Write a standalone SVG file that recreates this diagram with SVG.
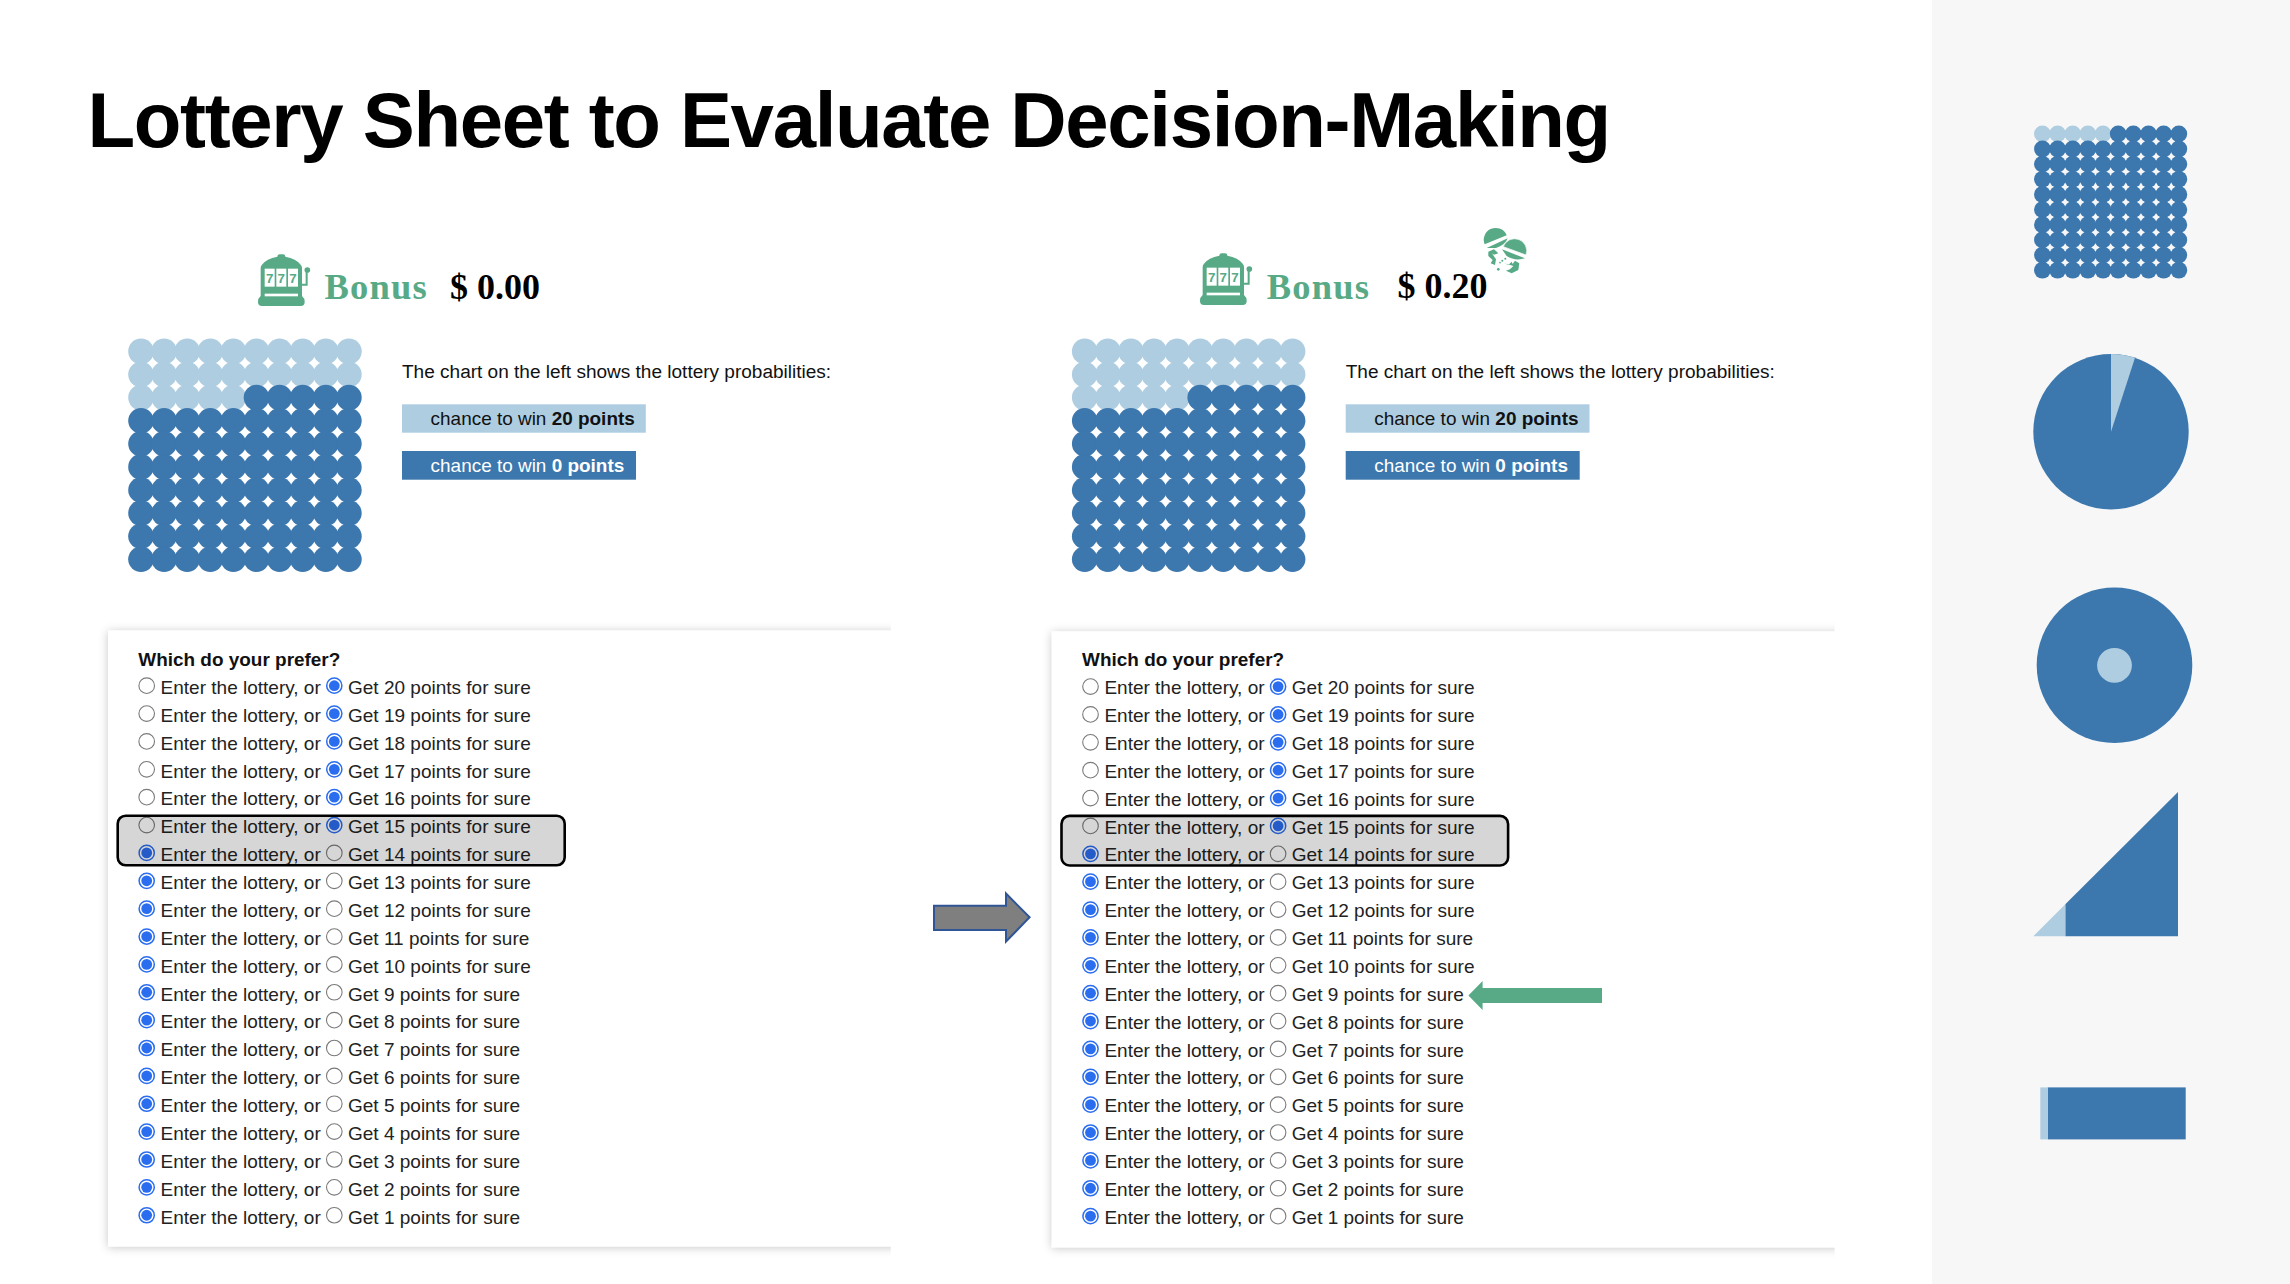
<svg xmlns="http://www.w3.org/2000/svg" width="2290" height="1284" viewBox="0 0 2290 1284">
<style>
text{font-family:"Liberation Sans",Arial,sans-serif}
.title{font-size:78px;font-weight:700;fill:#000;letter-spacing:-1.35px}
.bonus{font-family:"Liberation Serif","Times New Roman",serif;font-size:36.5px;font-weight:700;fill:#57AA85;letter-spacing:1.2px}
.amount{font-family:"Liberation Serif","Times New Roman",serif;font-size:36px;font-weight:700;fill:#000}
.cap{font-size:19.03px;fill:#111}
.bar{font-size:18.95px}
.bar tspan{font-weight:700}
.form text{font-size:19px;fill:#222}
.form text.q{font-size:18.95px;font-weight:700;fill:#111}
.light{fill:#AECDE1}
.dark{fill:#3C77AE}
.green{fill:#57AA85}
.hl{fill:#000;fill-opacity:.16}
.hlb{fill:none;stroke:#000;stroke-width:2.6}
.seven{font-size:40px;font-weight:700;fill:#57AA85;text-anchor:middle}
</style>
<defs>
<filter id="shadow" x="-10%" y="-10%" width="120%" height="120%"><feDropShadow dx="0" dy="1" stdDeviation="5" flood-color="#000" flood-opacity=".22"/></filter>
<clipPath id="cardclip"><rect x="85" y="600" width="805.8" height="670"/></clipPath>
<g id="card" clip-path="url(#cardclip)"><rect x="108" y="630.5" width="900" height="616" fill="#fff" filter="url(#shadow)"/></g>
<g id="a"><circle cx="12.4" cy="12.4" r="12.8"/><circle cx="35.5" cy="12.4" r="12.8"/><circle cx="58.6" cy="12.4" r="12.8"/><circle cx="81.7" cy="12.4" r="12.8"/><circle cx="104.8" cy="12.4" r="12.8"/></g>
<g id="b"><circle cx="127.9" cy="12.4" r="12.8"/><circle cx="151" cy="12.4" r="12.8"/><circle cx="174.1" cy="12.4" r="12.8"/><circle cx="197.2" cy="12.4" r="12.8"/><circle cx="220.3" cy="12.4" r="12.8"/></g>
<g id="r"><use href="#a"/><use href="#b"/></g>
<g id="grid">
<g class="light"><use href="#r"/><use href="#r" y="23.1"/><use href="#a" y="46.2"/></g>
<g class="dark"><use href="#b" y="46.2"/><use href="#r" y="69.3"/><use href="#r" y="92.4"/><use href="#r" y="115.5"/><use href="#r" y="138.6"/><use href="#r" y="161.7"/><use href="#r" y="184.8"/><use href="#r" y="207.9"/></g>
</g>
<g id="on"><circle r="7.6" fill="#fff" stroke="#2B6DEF" stroke-width="1.5"/><circle r="5.4" fill="#2B6DEF"/></g>
<circle id="off" r="7.8" fill="#fff" stroke="#7a7a7a" stroke-width="1.1"/>
<g id="slot" class="green">
<path d="M88 32Q88 25 95 25H105Q112 25 112 32Q145 38 158 56Q162 60 162 66V150Q170 156 170 168Q170 180 158 180H42Q30 180 30 168Q30 156 38 150V66Q38 60 42 56Q55 38 88 32Z"/>
<rect x="50" y="68" width="30" height="54" fill="#fff"/><rect x="85" y="68" width="30" height="54" fill="#fff"/><rect x="120" y="68" width="30" height="54" fill="#fff"/>
<rect x="50" y="143" width="100" height="8" fill="#fff"/>
<circle cx="178" cy="72" r="8.5"/><path d="M176 78V116H160" fill="none" stroke="#57AA85" stroke-width="6"/>
</g>
</defs>

<rect width="2290" height="1284" fill="#fff"/>
<rect x="1932" width="358" height="1284" fill="#F7F7F7"/>

<text id="title" class="title" x="87.5" y="147.3">Lottery Sheet to Evaluate Decision-Making</text>

<g id="bonus-left">
<g transform="translate(248,246) scale(.3333)"><use href="#slot"/><text class="seven" x="65" y="110">7</text><text class="seven" x="100" y="110">7</text><text class="seven" x="135" y="110">7</text></g>
<text class="bonus" x="324.4" y="299.3">Bonus</text>
<text class="amount" x="450" y="298.7">$ 0.00</text>
</g>
<g id="bonus-right">
<g transform="translate(1190,245) scale(.3333)"><use href="#slot"/><text class="seven" x="65" y="110">7</text><text class="seven" x="100" y="110">7</text><text class="seven" x="135" y="110">7</text></g>
<text class="bonus" x="1266.7" y="298.8">Bonus</text>
<text class="amount" x="1397.5" y="298">$ 0.20</text>
<g id="jackpot" class="green" transform="translate(1470,220) scale(.3333)">
<path d="M44 73A32 32 0 1 1 110 46Z"/><path d="M50 84L113 55Q106 75 78 84Z"/>
<path d="M100 80A34 34 0 1 1 168 105Z" stroke="#fff" stroke-width="2"/><path d="M96 88L165 115Q135 124 110 108Z"/>
<path d="M55 95L72 88L85 100L72 104L66 100L78 118L75 135L62 130L68 120L55 108Z"/>
<path d="M103 130L115 135L125 125L128 132L135 122L148 130L145 150L125 160L108 152L120 148L130 138Z"/>
<circle cx="97" cy="122" r="3"/><circle cx="106" cy="116" r="3"/><circle cx="85" cy="148" r="4"/><circle cx="90" cy="128" r="2.5"/>
</g>
</g>

<g id="chart-left">
<use href="#grid" transform="translate(128.6,339)"/>
<text class="cap" x="402" y="377.7">The chart on the left shows the lottery probabilities:</text>
<rect class="light" x="402" y="404.3" width="243.8" height="28.4"/>
<text class="bar" x="430.6" y="424.6" fill="#111">chance to win <tspan>20 points</tspan></text>
<rect class="dark" x="402" y="451" width="234" height="28.7"/>
<text class="bar" x="430.6" y="471.6" fill="#fff">chance to win <tspan>0 points</tspan></text>
</g>
<g id="chart-right" transform="translate(943.7,0)">
<use href="#grid" transform="translate(128.6,339)"/>
<text class="cap" x="402" y="377.7">The chart on the left shows the lottery probabilities:</text>
<rect class="light" x="402" y="404.3" width="243.8" height="28.4"/>
<text class="bar" x="430.6" y="424.6" fill="#111">chance to win <tspan>20 points</tspan></text>
<rect class="dark" x="402" y="451" width="234" height="28.7"/>
<text class="bar" x="430.6" y="471.6" fill="#fff">chance to win <tspan>0 points</tspan></text>
</g>

<g id="form-left" class="form">
<use href="#card"/>
<text class="q" x="138.3" y="665.7">Which do your prefer?</text>
<g transform="translate(0,694)"><use href="#off" x="146.7" y="-8.3"/><text x="160.6">Enter the lottery, or</text><use href="#on" x="334.3" y="-8.3"/><text x="348">Get 20 points for sure</text></g>
<g transform="translate(0,721.87)"><use href="#off" x="146.7" y="-8.3"/><text x="160.6">Enter the lottery, or</text><use href="#on" x="334.3" y="-8.3"/><text x="348">Get 19 points for sure</text></g>
<g transform="translate(0,749.74)"><use href="#off" x="146.7" y="-8.3"/><text x="160.6">Enter the lottery, or</text><use href="#on" x="334.3" y="-8.3"/><text x="348">Get 18 points for sure</text></g>
<g transform="translate(0,777.61)"><use href="#off" x="146.7" y="-8.3"/><text x="160.6">Enter the lottery, or</text><use href="#on" x="334.3" y="-8.3"/><text x="348">Get 17 points for sure</text></g>
<g transform="translate(0,805.48)"><use href="#off" x="146.7" y="-8.3"/><text x="160.6">Enter the lottery, or</text><use href="#on" x="334.3" y="-8.3"/><text x="348">Get 16 points for sure</text></g>
<g transform="translate(0,833.35)"><use href="#off" x="146.7" y="-8.3"/><text x="160.6">Enter the lottery, or</text><use href="#on" x="334.3" y="-8.3"/><text x="348">Get 15 points for sure</text></g>
<g transform="translate(0,861.22)"><use href="#on" x="146.7" y="-8.3"/><text x="160.6">Enter the lottery, or</text><use href="#off" x="334.3" y="-8.3"/><text x="348">Get 14 points for sure</text></g>
<g transform="translate(0,889.09)"><use href="#on" x="146.7" y="-8.3"/><text x="160.6">Enter the lottery, or</text><use href="#off" x="334.3" y="-8.3"/><text x="348">Get 13 points for sure</text></g>
<g transform="translate(0,916.96)"><use href="#on" x="146.7" y="-8.3"/><text x="160.6">Enter the lottery, or</text><use href="#off" x="334.3" y="-8.3"/><text x="348">Get 12 points for sure</text></g>
<g transform="translate(0,944.83)"><use href="#on" x="146.7" y="-8.3"/><text x="160.6">Enter the lottery, or</text><use href="#off" x="334.3" y="-8.3"/><text x="348">Get 11 points for sure</text></g>
<g transform="translate(0,972.7)"><use href="#on" x="146.7" y="-8.3"/><text x="160.6">Enter the lottery, or</text><use href="#off" x="334.3" y="-8.3"/><text x="348">Get 10 points for sure</text></g>
<g transform="translate(0,1000.57)"><use href="#on" x="146.7" y="-8.3"/><text x="160.6">Enter the lottery, or</text><use href="#off" x="334.3" y="-8.3"/><text x="348">Get 9 points for sure</text></g>
<g transform="translate(0,1028.44)"><use href="#on" x="146.7" y="-8.3"/><text x="160.6">Enter the lottery, or</text><use href="#off" x="334.3" y="-8.3"/><text x="348">Get 8 points for sure</text></g>
<g transform="translate(0,1056.31)"><use href="#on" x="146.7" y="-8.3"/><text x="160.6">Enter the lottery, or</text><use href="#off" x="334.3" y="-8.3"/><text x="348">Get 7 points for sure</text></g>
<g transform="translate(0,1084.18)"><use href="#on" x="146.7" y="-8.3"/><text x="160.6">Enter the lottery, or</text><use href="#off" x="334.3" y="-8.3"/><text x="348">Get 6 points for sure</text></g>
<g transform="translate(0,1112.05)"><use href="#on" x="146.7" y="-8.3"/><text x="160.6">Enter the lottery, or</text><use href="#off" x="334.3" y="-8.3"/><text x="348">Get 5 points for sure</text></g>
<g transform="translate(0,1139.92)"><use href="#on" x="146.7" y="-8.3"/><text x="160.6">Enter the lottery, or</text><use href="#off" x="334.3" y="-8.3"/><text x="348">Get 4 points for sure</text></g>
<g transform="translate(0,1167.79)"><use href="#on" x="146.7" y="-8.3"/><text x="160.6">Enter the lottery, or</text><use href="#off" x="334.3" y="-8.3"/><text x="348">Get 3 points for sure</text></g>
<g transform="translate(0,1195.66)"><use href="#on" x="146.7" y="-8.3"/><text x="160.6">Enter the lottery, or</text><use href="#off" x="334.3" y="-8.3"/><text x="348">Get 2 points for sure</text></g>
<g transform="translate(0,1223.53)"><use href="#on" x="146.7" y="-8.3"/><text x="160.6">Enter the lottery, or</text><use href="#off" x="334.3" y="-8.3"/><text x="348">Get 1 points for sure</text></g>
<rect class="hl" x="117.7" y="815.7" width="447" height="49.6" rx="8"/>
<rect class="hlb" x="117.7" y="815.7" width="447" height="49.6" rx="8"/>
</g>

<g id="form-right" class="form" transform="translate(943.8,0.9)">
<use href="#card"/>
<text class="q" x="138.3" y="665.2">Which do your prefer?</text>
<g transform="translate(0,693.3)"><use href="#off" x="146.7" y="-7.6"/><text x="160.6">Enter the lottery, or</text><use href="#on" x="334.3" y="-7.6"/><text x="348">Get 20 points for sure</text></g>
<g transform="translate(0,721.17)"><use href="#off" x="146.7" y="-7.6"/><text x="160.6">Enter the lottery, or</text><use href="#on" x="334.3" y="-7.6"/><text x="348">Get 19 points for sure</text></g>
<g transform="translate(0,749.04)"><use href="#off" x="146.7" y="-7.6"/><text x="160.6">Enter the lottery, or</text><use href="#on" x="334.3" y="-7.6"/><text x="348">Get 18 points for sure</text></g>
<g transform="translate(0,776.91)"><use href="#off" x="146.7" y="-7.6"/><text x="160.6">Enter the lottery, or</text><use href="#on" x="334.3" y="-7.6"/><text x="348">Get 17 points for sure</text></g>
<g transform="translate(0,804.78)"><use href="#off" x="146.7" y="-7.6"/><text x="160.6">Enter the lottery, or</text><use href="#on" x="334.3" y="-7.6"/><text x="348">Get 16 points for sure</text></g>
<g transform="translate(0,832.65)"><use href="#off" x="146.7" y="-7.6"/><text x="160.6">Enter the lottery, or</text><use href="#on" x="334.3" y="-7.6"/><text x="348">Get 15 points for sure</text></g>
<g transform="translate(0,860.52)"><use href="#on" x="146.7" y="-7.6"/><text x="160.6">Enter the lottery, or</text><use href="#off" x="334.3" y="-7.6"/><text x="348">Get 14 points for sure</text></g>
<g transform="translate(0,888.39)"><use href="#on" x="146.7" y="-7.6"/><text x="160.6">Enter the lottery, or</text><use href="#off" x="334.3" y="-7.6"/><text x="348">Get 13 points for sure</text></g>
<g transform="translate(0,916.26)"><use href="#on" x="146.7" y="-7.6"/><text x="160.6">Enter the lottery, or</text><use href="#off" x="334.3" y="-7.6"/><text x="348">Get 12 points for sure</text></g>
<g transform="translate(0,944.13)"><use href="#on" x="146.7" y="-7.6"/><text x="160.6">Enter the lottery, or</text><use href="#off" x="334.3" y="-7.6"/><text x="348">Get 11 points for sure</text></g>
<g transform="translate(0,972)"><use href="#on" x="146.7" y="-7.6"/><text x="160.6">Enter the lottery, or</text><use href="#off" x="334.3" y="-7.6"/><text x="348">Get 10 points for sure</text></g>
<g transform="translate(0,999.87)"><use href="#on" x="146.7" y="-7.6"/><text x="160.6">Enter the lottery, or</text><use href="#off" x="334.3" y="-7.6"/><text x="348">Get 9 points for sure</text></g>
<g transform="translate(0,1027.74)"><use href="#on" x="146.7" y="-7.6"/><text x="160.6">Enter the lottery, or</text><use href="#off" x="334.3" y="-7.6"/><text x="348">Get 8 points for sure</text></g>
<g transform="translate(0,1055.61)"><use href="#on" x="146.7" y="-7.6"/><text x="160.6">Enter the lottery, or</text><use href="#off" x="334.3" y="-7.6"/><text x="348">Get 7 points for sure</text></g>
<g transform="translate(0,1083.48)"><use href="#on" x="146.7" y="-7.6"/><text x="160.6">Enter the lottery, or</text><use href="#off" x="334.3" y="-7.6"/><text x="348">Get 6 points for sure</text></g>
<g transform="translate(0,1111.35)"><use href="#on" x="146.7" y="-7.6"/><text x="160.6">Enter the lottery, or</text><use href="#off" x="334.3" y="-7.6"/><text x="348">Get 5 points for sure</text></g>
<g transform="translate(0,1139.22)"><use href="#on" x="146.7" y="-7.6"/><text x="160.6">Enter the lottery, or</text><use href="#off" x="334.3" y="-7.6"/><text x="348">Get 4 points for sure</text></g>
<g transform="translate(0,1167.09)"><use href="#on" x="146.7" y="-7.6"/><text x="160.6">Enter the lottery, or</text><use href="#off" x="334.3" y="-7.6"/><text x="348">Get 3 points for sure</text></g>
<g transform="translate(0,1194.96)"><use href="#on" x="146.7" y="-7.6"/><text x="160.6">Enter the lottery, or</text><use href="#off" x="334.3" y="-7.6"/><text x="348">Get 2 points for sure</text></g>
<g transform="translate(0,1222.83)"><use href="#on" x="146.7" y="-7.6"/><text x="160.6">Enter the lottery, or</text><use href="#off" x="334.3" y="-7.6"/><text x="348">Get 1 points for sure</text></g>
<rect class="hl" x="117.7" y="815" width="446.6" height="49.6" rx="8"/>
<rect class="hlb" x="117.7" y="815" width="446.6" height="49.6" rx="8"/>
</g>

<g id="connectors">
<path d="M934 905.7H1006V893.5L1029.6 917.3L1006 941.5V930H934Z" fill="#7F7F7F" stroke="#2F5597" stroke-width="2"/>
<path class="green" d="M1602 988H1482.6V981L1468.4 995.5L1482.6 1010V1003H1602Z"/>
</g>

<g id="icon-dots"><g transform="translate(2034.3,125.7) scale(.656)"><use href="#a" class="light"/><g class="dark"><use href="#b"/><use href="#r" y="23.1"/><use href="#r" y="46.2"/><use href="#r" y="69.3"/><use href="#r" y="92.4"/><use href="#r" y="115.5"/><use href="#r" y="138.6"/><use href="#r" y="161.7"/><use href="#r" y="184.8"/><use href="#r" y="207.9"/></g></g></g>
<g id="icon-pie"><circle class="dark" cx="2111" cy="431.7" r="77.7"/><path class="light" d="M2111 431.7V354A77.7 77.7 0 0 1 2135 357.8Z"/></g>
<g id="icon-disc"><circle class="dark" cx="2114.5" cy="665.3" r="77.8"/><circle class="light" cx="2114.5" cy="665.3" r="17.4"/></g>
<g id="icon-triangle"><path class="dark" d="M2065.3 904.3L2178 791.9V936.2H2065.3Z"/><path class="light" d="M2033.3 936.2L2065.3 904.3V936.2Z"/></g>
<g id="icon-bar"><rect class="dark" x="2047.7" y="1087.4" width="138" height="52"/><rect class="light" x="2040.3" y="1087.4" width="7.4" height="52"/></g>
</svg>
